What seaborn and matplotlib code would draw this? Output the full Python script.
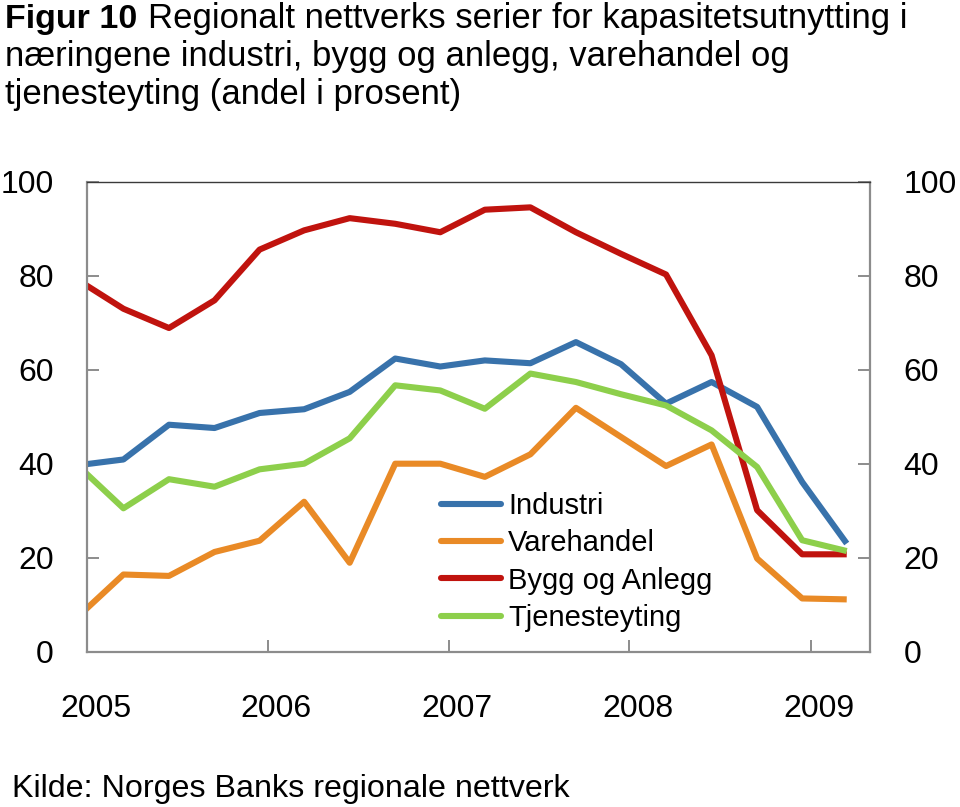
import matplotlib
matplotlib.use("Agg")
import matplotlib.pyplot as plt
import matplotlib.transforms as mtrans
import seaborn as sns
import pandas as pd

# ---- data -------------------------------------------------------------
dates = ["2004-12-15", "2005-03-15", "2005-06-15", "2005-09-15", "2005-12-15",
         "2006-03-15", "2006-06-15", "2006-09-15", "2006-12-15",
         "2007-03-15", "2007-06-15", "2007-09-15", "2007-12-15",
         "2008-03-15", "2008-06-15", "2008-09-15", "2008-12-15", "2009-03-15"]
industri = [39.7, 40.9, 48.3, 47.6, 50.8, 51.6, 55.3, 62.4, 60.7,
            62.0, 61.4, 65.9, 61.2, 52.8, 57.4, 52.1, 36.1, 23.0]
varehandel = [7.6, 16.4, 16.1, 21.2, 23.6, 31.9, 18.9, 40.0, 40.0,
              37.2, 42.0, 51.9, 45.7, 39.5, 44.1, 19.8, 11.3, 11.1]
bygg = [79.0, 73.0, 68.9, 74.8, 85.6, 89.7, 92.3, 91.1, 89.3,
        94.1, 94.6, 89.3, 84.7, 80.3, 63.1, 30.1, 20.7, 20.7]
tjeneste = [39.4, 30.5, 36.7, 35.1, 38.8, 40.0, 45.4, 56.7, 55.6,
            51.7, 59.2, 57.4, 54.8, 52.4, 47.1, 39.3, 23.7, 21.4]
series_names = ["Industri", "Varehandel", "Bygg og Anlegg", "Tjenesteyting"]
series_colors = ["#3872AB", "#E98A26", "#C0130E", "#8DCF4B"]
year_labels = ["2005", "2006", "2007", "2008", "2009"]
y_ticks = [0, 20, 40, 60, 80, 100]

title_bold = "Figur 10"
title_line1 = "Regionalt nettverks serier for kapasitetsutnytting i"
title_line2 = "næringene industri, bygg og anlegg, varehandel og"
title_line3 = "tjenesteyting (andel i prosent)"
source = "Kilde: Norges Banks regionale nettverk"

# ---- frame ------------------------------------------------------------
d = pd.to_datetime(dates)
df = pd.concat([
    pd.DataFrame({"dato": d, "verdi": vals, "serie": name})
    for name, vals in zip(series_names, [industri, varehandel, bygg, tjeneste])
], ignore_index=True)

sns.set_theme(style="white")
plt.rcParams["font.family"] = ["Liberation Sans", "DejaVu Sans"]
plt.rcParams["text.color"] = "black"

W, H = 960, 807
fig = plt.figure(figsize=(W / 100, H / 100), dpi=100)
ax_l, ax_r, ax_t, ax_b = 87.3, 870, 182, 651.5
ax = fig.add_axes([ax_l / W, 1 - ax_b / H, (ax_r - ax_l) / W, (ax_b - ax_t) / H])

sns.lineplot(data=df, x="dato", y="verdi", hue="serie", hue_order=series_names,
             palette=dict(zip(series_names, series_colors)), linewidth=4.4,
             sort=False, ax=ax, legend=True)
for ln in ax.get_lines():
    ln.set_solid_joinstyle("round")
    ln.set_solid_capstyle("butt")

ax.set_xlim(pd.Timestamp("2005-01-01"), pd.Timestamp("2009-05-01"))
ax.set_ylim(0, 100)
ax.set_xlabel("")
ax.set_ylabel("")

ax.set_yticks(y_ticks)
ax.set_yticklabels([str(v) for v in y_ticks])
ax.tick_params(axis="y", which="both", left=True, right=True, labelleft=True,
               labelright=True, direction="in", length=8.5, width=1.4,
               color="#8C8C8C", pad=24, labelsize=23, labelcolor="black")

xt = [pd.Timestamp(f"{y}-01-01") for y in year_labels]
ax.set_xticks(xt)
ax.set_xticklabels(year_labels)
ax.tick_params(axis="x", which="both", bottom=True, direction="in", length=8.5,
               width=1.4, color="#8C8C8C", pad=30.5, labelsize=23, labelcolor="black")
off = mtrans.ScaledTranslation(6.0 / 72, 0, fig.dpi_scale_trans)
for lab in ax.get_xticklabels():
    lab.set_transform(lab.get_transform() + off)

for side in ["left", "right", "bottom"]:
    ax.spines[side].set_color("#8C8C8C")
    ax.spines[side].set_linewidth(1.6)
    ax.spines[side].set_visible(True)
ax.spines["top"].set_color("#3A3A3A")
ax.spines["top"].set_linewidth(1.0)
ax.spines["top"].set_visible(True)
ax.grid(False)

# legend
handles, labels = ax.get_legend_handles_labels()
leg = ax.legend(handles, labels, loc="upper left",
                bbox_to_anchor=(441 / W, 1 - 492 / H), bbox_transform=fig.transFigure,
                frameon=False, fontsize=21, handlelength=2.05, handletextpad=0.25,
                labelspacing=0.32, borderpad=0, borderaxespad=0)
for h in leg.get_lines():
    h.set_linewidth(4.4)
    h.set_solid_capstyle("round")

# title
fs_t = 25
fig.text(5 / W, 1 - 28 / H, title_bold, fontsize=fs_t - 0.5, fontweight="bold",
         ha="left", va="baseline")
fig.text(148 / W, 1 - 28 / H, title_line1, fontsize=fs_t, ha="left", va="baseline")
fig.text(5 / W, 1 - 66 / H, title_line2, fontsize=fs_t, ha="left", va="baseline")
fig.text(5 / W, 1 - 104 / H, title_line3, fontsize=fs_t, ha="left", va="baseline")

fig.text(12 / W, 1 - 797 / H, source, fontsize=23.2, ha="left", va="baseline")

fig.savefig("out.png", dpi=100)
